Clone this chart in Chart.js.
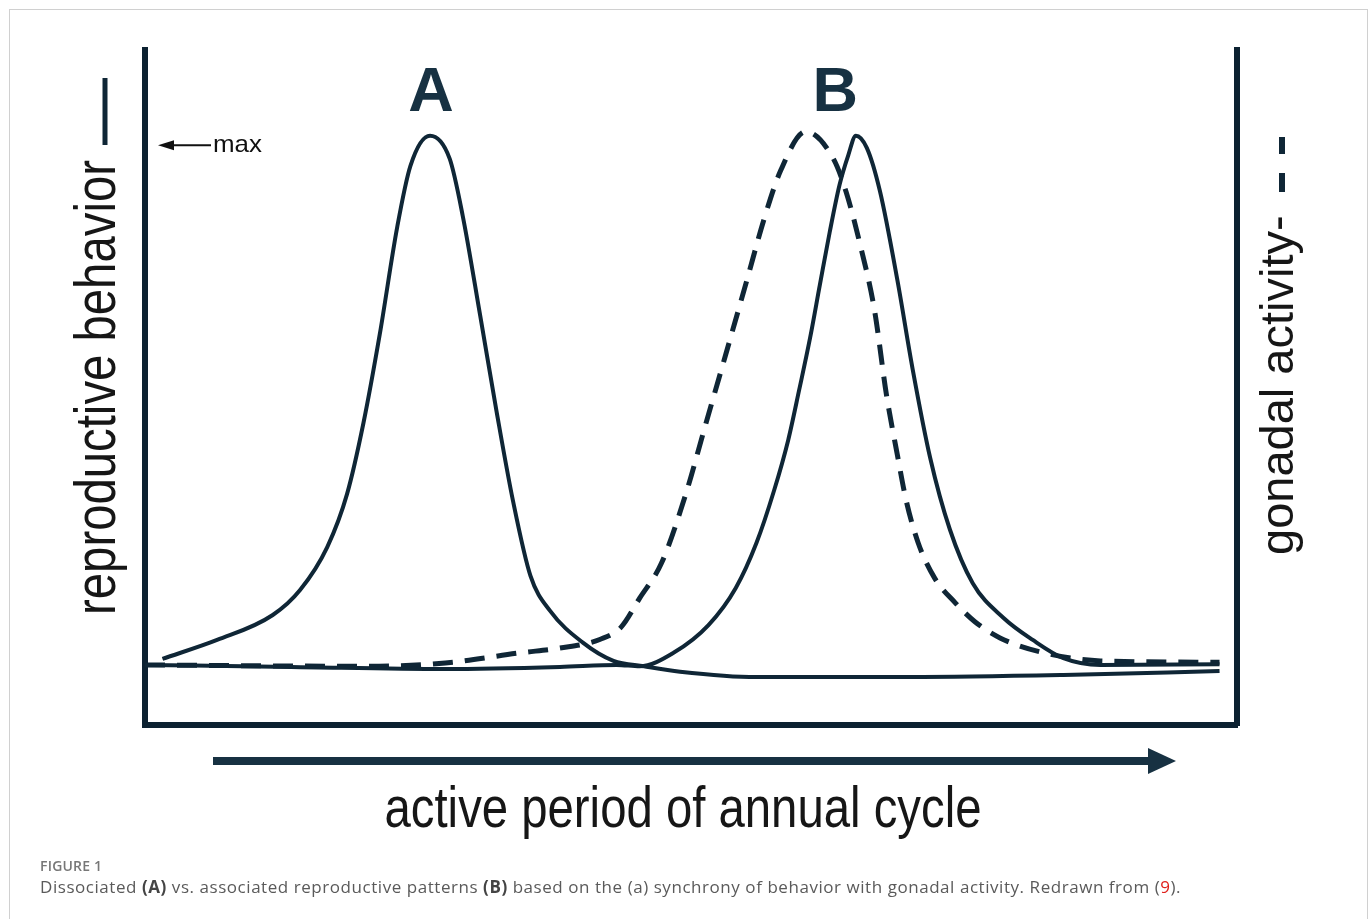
<!DOCTYPE html>
<html>
<head>
<meta charset="utf-8">
<script src="https://cdn.jsdelivr.net/npm/chart.js@4.4.0/dist/chart.umd.min.js"></script>
<style>
  html, body { margin: 0; padding: 0; background: #fff; }
  #frame {
    position: absolute; left: 9px; top: 9px; width: 1359px; height: 930px;
    border: 1px solid #d0d0d0; box-sizing: border-box;
  }
  #wrap { position: absolute; left: 0; top: 0; width: 1372px; height: 919px; }
  #caption {
    position: absolute; left: 40px; top: 856px; width: 1320px;
    font-family: "Open Sans", sans-serif; color: #5a5a5a;
  }
  #caption .fig { font-size: 14px; font-weight: 600; color: #777; letter-spacing: 0.2px; }
  #caption .txt { font-size: 17px; letter-spacing: 0.55px; margin-top: 0px; }
  #caption b { font-weight: 700; color: #444; }
  #caption .ref { color: #e0201b; }
</style>
</head>
<body>
<div id="frame"></div>
<div id="wrap"><canvas id="cycle" width="1372" height="919"></canvas></div>
<div id="caption">
  <div class="fig">FIGURE 1</div>
  <div class="txt">Dissociated <b>(A)</b> vs. associated reproductive patterns <b>(B)</b> based on the (a) synchrony of behavior with gonadal activity. Redrawn from (<span class="ref">9</span>).</div>
</div>
<script>
// time along the active period (0-100) and relative level (0-100)
var behaviorAx = [1.6, 6.6, 11.7, 14.2, 16.7, 18.5, 20.0, 21.5, 23.1, 24.3, 26.1, 27.9, 29.1, 30.7, 32.2, 33.7, 35.3, 37.1, 40.1, 42.9, 45.7, 49.0, 56.0, 70.0, 84.1, 98.4];
var behaviorAy = [9.8, 12.6, 16.3, 20.0, 26.4, 34.2, 44.7, 57.9, 73.8, 82.8, 87.3, 83.9, 75.4, 60.6, 46.4, 33.2, 22.1, 16.9, 12.2, 9.5, 8.7, 7.9, 7.1, 7.1, 7.4, 8.0];

var behaviorBx = [0, 13.4, 27.5, 38.0, 43.2, 45.3, 48.4, 51.6, 54.1, 56.0, 57.6, 58.9, 59.9, 60.9, 61.8, 62.7, 63.6, 64.4, 65.1, 66.1, 67.3, 68.9, 70.3, 71.9, 73.7, 75.8, 78.6, 81.3, 84.1, 87.5, 98.4];
var behaviorBy = [8.9, 8.6, 8.3, 8.6, 8.9, 8.7, 10.7, 14.8, 20.3, 27.0, 34.7, 42.2, 49.6, 57.3, 65.2, 73.0, 80.0, 84.4, 87.3, 85.5, 79.1, 65.9, 52.7, 39.6, 29.0, 21.0, 15.9, 12.6, 9.9, 8.9, 9.0];

var gonadX = [0, 20.4, 27.5, 34.4, 38.0, 41.7, 43.6, 45.3, 47.3, 49.5, 51.3, 53.2, 55.1, 56.7, 58.2, 60.5, 63.0, 64.2, 65.5, 66.8, 67.9, 68.9, 69.7, 70.8, 72.3, 74.2, 76.0, 78.3, 82.3, 87.5, 98.4];
var gonadY = [8.9, 8.7, 9.2, 10.7, 11.4, 12.7, 14.5, 18.8, 24.0, 34.1, 44.3, 55.0, 65.8, 75.0, 82.1, 87.9, 84.0, 79.0, 71.1, 61.5, 48.9, 40.0, 33.3, 27.0, 21.8, 18.1, 15.3, 12.9, 10.7, 9.5, 9.3];

var patternLabels = ['A', 'B'];
var patternPos = [26.2, 63.2];   // x of the letters
var letterLevel = 93.6;
var maxLevel = 85.9;

var ink = '#0f2636';

function pts(xs, ys) {
    return xs.map(function (x, i) { return {x: x, y: ys[i]}; });
}

// labels, arrows and letters drawn on top
var decor = {
    id: 'decor',
    afterDraw: function (chart) {
        var ctx = chart.ctx;
        var xs = chart.scales.x, ys = chart.scales.y;
        var area = chart.chartArea;
        ctx.save();

        // pattern letters
        ctx.fillStyle = '#173142';
        ctx.font = 'bold 63px "Liberation Sans", Arial, sans-serif';
        ctx.textAlign = 'center';
        ctx.textBaseline = 'middle';
        patternLabels.forEach(function (t, i) {
            ctx.fillText(t, xs.getPixelForValue(patternPos[i]), ys.getPixelForValue(letterLevel));
        });

        // max marker
        var my = ys.getPixelForValue(maxLevel);
        ctx.strokeStyle = '#111';
        ctx.fillStyle = '#111';
        ctx.lineWidth = 2;
        ctx.beginPath();
        ctx.moveTo(area.left + 27, my);
        ctx.lineTo(area.left + 66, my);
        ctx.stroke();
        ctx.beginPath();
        ctx.moveTo(area.left + 13, my);
        ctx.lineTo(area.left + 29, my - 5);
        ctx.lineTo(area.left + 29, my + 5);
        ctx.closePath();
        ctx.fill();
        ctx.font = '24px "Liberation Sans", Arial, sans-serif';
        ctx.textAlign = 'left';
        ctx.textBaseline = 'alphabetic';
        ctx.save();
        ctx.translate(area.left + 68, my + 7);
        ctx.scale(1.08, 1);
        ctx.fillText('max', 0, 0);
        ctx.restore();

        // time arrow under the axis
        ctx.fillStyle = '#173142';
        ctx.fillRect(213, 757, 940, 8);
        ctx.beginPath();
        ctx.moveTo(1148, 748);
        ctx.lineTo(1176, 761);
        ctx.lineTo(1148, 774);
        ctx.closePath();
        ctx.fill();

        // axis titles (condensed)
        ctx.fillStyle = '#161616';
        ctx.font = '57px "Liberation Sans", Arial, sans-serif';
        ctx.save();
        ctx.translate(683, 827);
        ctx.scale(0.83, 1);
        ctx.textAlign = 'center';
        ctx.fillText('active period of annual cycle', 0, 0);
        ctx.restore();

        ctx.save();
        ctx.translate(115, 615);
        ctx.rotate(-Math.PI / 2);
        ctx.scale(0.83, 1);
        ctx.textAlign = 'left';
        ctx.fillText('reproductive behavior', 0, 0);
        ctx.restore();
        ctx.strokeStyle = '#0f2636';
        ctx.lineWidth = 5;
        ctx.beginPath();
        ctx.moveTo(105, 145);
        ctx.lineTo(105, 78);
        ctx.stroke();

        ctx.save();
        ctx.translate(1293, 555);
        ctx.rotate(-Math.PI / 2);
        ctx.font = '47px "Liberation Sans", Arial, sans-serif';
        ctx.textAlign = 'left';
        ctx.fillText('gonadal activity-', 0, 0);
        ctx.restore();
        ctx.lineWidth = 6;
        ctx.beginPath();
        ctx.moveTo(1282, 173); ctx.lineTo(1282, 192);
        ctx.moveTo(1282, 137); ctx.lineTo(1282, 154);
        ctx.stroke();

        ctx.restore();
    }
};

var axisLine = { display: true, width: 6, color: '#0c2131' };

var chart = new Chart(document.getElementById('cycle'), {
    type: 'line',
    data: {
        datasets: [{
            label: 'reproductive behavior (A)',
            data: pts(behaviorAx, behaviorAy),
            borderColor: ink,
            borderWidth: 4,
            pointRadius: 0,
            fill: false,
            cubicInterpolationMode: 'monotone'
        }, {
            label: 'reproductive behavior (B)',
            data: pts(behaviorBx, behaviorBy),
            borderColor: ink,
            borderWidth: 4,
            pointRadius: 0,
            fill: false,
            cubicInterpolationMode: 'monotone'
        }, {
            label: 'gonadal activity',
            data: pts(gonadX, gonadY),
            borderColor: ink,
            borderWidth: 5,
            borderDash: [20, 12],
            pointRadius: 0,
            fill: false,
            cubicInterpolationMode: 'monotone'
        }]
    },
    options: {
        responsive: false,
        animation: false,
        layout: { padding: { left: 145, right: 135, top: 50, bottom: 194 } },
        scales: {
            x: {
                type: 'linear', min: 0, max: 100,
                ticks: { display: false },
                grid: { display: false, drawTicks: false },
                border: axisLine
            },
            y: {
                type: 'linear', position: 'left', min: 0, max: 100,
                ticks: { display: false },
                grid: { display: false, drawTicks: false },
                border: axisLine
            },
            y2: {
                type: 'linear', position: 'right', min: 0, max: 100,
                ticks: { display: false },
                grid: { display: false, drawTicks: false },
                border: axisLine
            }
        },
        plugins: {
            legend: { display: false },
            tooltip: { enabled: false }
        }
    },
    plugins: [decor]
});
</script>
</body>
</html>
